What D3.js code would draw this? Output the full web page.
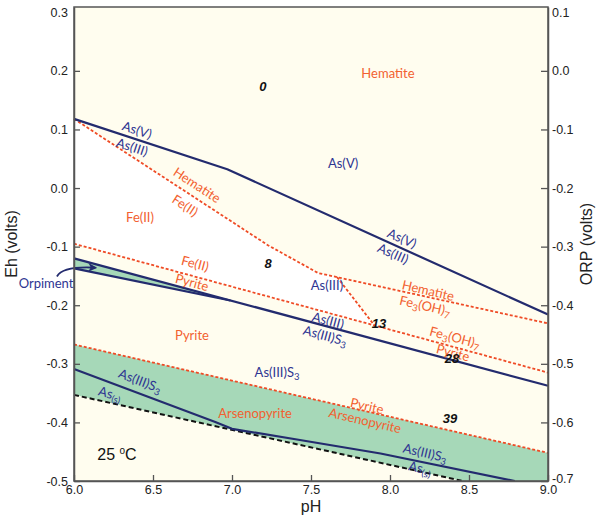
<!DOCTYPE html>
<html>
<head>
<meta charset="utf-8">
<script src="https://cdn.jsdelivr.net/npm/d3@7"></script>
<style>
  body { margin: 0; background: #ffffff; }
  svg { display: block; }
</style>
</head>
<body>
<svg id="chart" width="601" height="525"></svg>
<script>
// ---------- data (pH, Eh in volts) ----------
const xDomain = [6.0, 9.0];
const ehDomain = [-0.5, 0.309];
const orpDomain = [-0.7, 0.109];
const xTicks = [6.0, 6.5, 7.0, 7.5, 8.0, 8.5, 9.0];
const ehTicks = [-0.5, -0.4, -0.3, -0.2, -0.1, 0.0, 0.1, 0.2, 0.3];
const orpTicks = [-0.7, -0.6, -0.5, -0.4, -0.3, -0.2, -0.1, 0.0, 0.1];

// solid blue boundaries (arsenic)
const asV_asIII = [[6.0, 0.118], [6.97, 0.032], [9.0, -0.216]];
const asIII_asIIIS3 = [[6.0, -0.120], [9.0, -0.3375]];
const orpimentLower = [[6.0, -0.137], [6.99, -0.192]];
const asIIIS3_asS = [[6.0, -0.309], [6.89, -0.399], [7.0, -0.411], [7.43, -0.430], [7.94, -0.453], [8.79, -0.5]];

// dashed orange boundaries (iron)
const hematite_feII = [[6.0, 0.118], [7.23, -0.098], [7.545, -0.145], [9.0, -0.231]];
const branchFe = [[7.665, -0.152], [7.9, -0.234]];
const feII_pyrite = [[6.0, -0.095], [9.0, -0.315]];
const pyrite_arsenopyrite = [[6.0, -0.267], [9.0, -0.452]];

// dashed black boundary
const asS_lower = [[6.0, -0.353], [8.46, -0.5]];

// region labels: [text, pH, Eh, rotation(deg), kind]
const labels = [
  ["Hematite", 7.987, 0.196, 0, "fe"],
  ["0", 7.196, 0.174, 0, "num"],
  ["As(V)", 6.399, 0.099, 18, "as"],
  ["As(III)", 6.367, 0.070, 18, "as"],
  ["As(V)", 7.703, 0.042, 0, "as"],
  ["Hematite", 6.778, 0.005, 33, "fe"],
  ["Fe(II)", 6.703, -0.030, 33, "fe"],
  ["Fe(II)", 6.418, -0.050, 0, "fe"],
  ["As(V)", 8.076, -0.086, 24, "as"],
  ["As(III)", 8.019, -0.112, 24, "as"],
  ["8", 7.228, -0.129, 0, "num"],
  ["Fe(II)", 6.766, -0.129, 15, "fe"],
  ["Pyrite", 6.747, -0.161, 15, "fe"],
  ["As(III)", 7.601, -0.166, 0, "as"],
  ["Orpiment", 5.823, -0.163, 0, "as"],
  ["Hematite", 8.241, -0.175, 13, "fe"],
  ["Fe_3(OH)_7", 8.222, -0.201, 13, "fe"],
  ["13", 7.930, -0.231, 0, "num"],
  ["As(III)", 7.608, -0.226, 15, "as"],
  ["As(III)S_3", 7.589, -0.252, 15, "as"],
  ["Fe_3(OH)_7", 8.411, -0.255, 15, "fe"],
  ["Pyrite", 8.399, -0.281, 15, "fe"],
  ["28", 8.392, -0.291, 0, "num"],
  ["Pyrite", 6.747, -0.252, 0, "fe"],
  ["As(III)S_3", 7.285, -0.314, 0, "as"],
  ["Pyrite", 7.854, -0.372, 13, "fe"],
  ["Arsenopyrite", 7.842, -0.397, 13, "fe"],
  ["39", 8.380, -0.394, 0, "num"],
  ["As(III)S_3", 6.418, -0.329, 21, "as"],
  ["As_(s)", 6.228, -0.351, 15, "as"],
  ["Arsenopyrite", 7.146, -0.385, 0, "fe"],
  ["As(III)S_3", 8.222, -0.452, 13, "as"],
  ["As_(s)", 8.19, -0.478, 13, "as"]
];
const tempLabel = ["25 ", "o", "C"];
const tempPos = [6.272, -0.454];
// orpiment pointer (pH, Eh): start, control, end
const orpArrow = [[5.892, -0.151], [5.93, -0.133], [6.135, -0.136]];

// ---------- layout ----------
const M = { left: 74, right: 548, top: 7, bottom: 481 };
const x = d3.scaleLinear().domain(xDomain).range([M.left, M.right]);
const y = d3.scaleLinear().domain(ehDomain).range([M.bottom, M.top]);
const yR = d3.scaleLinear().domain(orpDomain).range([M.bottom, M.top]);

const C = {
  cream: "#fffdef",
  white: "#ffffff",
  green: "#a6d8b8",
  navy: "#232b6e",
  navyText: "#2e3592",
  orangeLine: "#ef4b26",
  orangeText: "#f26130",
  axis: "#555555"
};

const svg = d3.select("#chart");
const line = d3.line().x(d => x(d[0])).y(d => y(d[1]));

// background
svg.append("rect").attr("x", M.left).attr("y", M.top)
  .attr("width", M.right - M.left).attr("height", M.bottom - M.top)
  .attr("fill", C.cream);

// white Fe(II) region
function segUpTo(arr, px) {
  return arr.filter(d => d[0] <= px);
}
const whitePoly = segUpTo(hematite_feII, branchFe[0][0])
  .concat([branchFe[0], branchFe[1]])
  .concat([feII_pyrite[0]]);
svg.append("path").attr("d", line(whitePoly) + "Z").attr("fill", C.white);

// orpiment green wedge
const orpPoly = [asIII_asIIIS3[0]].concat(orpimentLower.slice().reverse());
svg.append("path").attr("d", line(orpPoly) + "Z").attr("fill", C.green);

// arsenopyrite green band
const bandPoly = pyrite_arsenopyrite
  .concat([[xDomain[1], ehDomain[0]]])
  .concat(asS_lower.slice().reverse());
svg.append("path").attr("d", line(bandPoly) + "Z").attr("fill", C.green);

// lines
function drawLine(data, color, width, dash) {
  svg.append("path").attr("d", line(data)).attr("fill", "none")
    .attr("stroke", color).attr("stroke-width", width)
    .attr("stroke-dasharray", dash || null)
    .attr("stroke-linejoin", "round");
}
drawLine(hematite_feII, C.orangeLine, 1.8, "3,2");
drawLine(branchFe, C.orangeLine, 1.8, "3,2");
drawLine(feII_pyrite, C.orangeLine, 1.8, "3,2");
drawLine(pyrite_arsenopyrite, C.orangeLine, 1.8, "3,2");
drawLine(asS_lower, "#111111", 2, "5,3");
drawLine(asV_asIII, C.navy, 2.2);
drawLine(asIII_asIIIS3, C.navy, 2.2);
drawLine(orpimentLower, C.navy, 2.2);
drawLine(asIIIS3_asS, C.navy, 2.2);

// orpiment arrow
svg.append("defs").append("marker").attr("id", "arrow")
  .attr("viewBox", "0 0 10 10").attr("refX", 8).attr("refY", 5)
  .attr("markerWidth", 5).attr("markerHeight", 5).attr("orient", "auto")
  .append("path").attr("d", "M0,0 L10,5 L0,10 L3,5 Z").attr("fill", C.navy);
svg.append("path")
  .attr("d", `M${x(orpArrow[0][0])},${y(orpArrow[0][1])} Q${x(orpArrow[1][0])},${y(orpArrow[1][1])} ${x(orpArrow[2][0])},${y(orpArrow[2][1])}`)
  .attr("fill", "none").attr("stroke", C.navy).attr("stroke-width", 1.8)
  .attr("marker-end", "url(#arrow)");

// frame
svg.append("rect").attr("x", M.left).attr("y", M.top)
  .attr("width", M.right - M.left).attr("height", M.bottom - M.top)
  .attr("fill", "none").attr("stroke", C.axis).attr("stroke-width", 1.5);

// axes
const fmt = d => d.toFixed(1);
const axFont = "Liberation Sans, Arial, sans-serif";
const gL = svg.append("g").attr("transform", `translate(${M.left},0)`)
  .call(d3.axisLeft(y).tickValues(ehTicks).tickFormat(fmt).tickSizeInner(-6).tickSizeOuter(0).tickPadding(6));
const gR = svg.append("g").attr("transform", `translate(${M.right},0)`)
  .call(d3.axisRight(yR).tickValues(orpTicks).tickFormat(fmt).tickSizeInner(-7).tickSizeOuter(0).tickPadding(4));
const gB = svg.append("g").attr("transform", `translate(0,${M.bottom})`)
  .call(d3.axisBottom(x).tickValues(xTicks).tickFormat(fmt).tickSizeInner(-6).tickSizeOuter(0).tickPadding(4));
[gL, gR, gB].forEach(g => {
  g.select(".domain").attr("stroke", C.axis).attr("stroke-width", 1.5);
  g.selectAll(".tick line").attr("stroke", C.axis).attr("stroke-width", 1.3);
  g.selectAll(".tick text").attr("font-family", axFont).attr("font-size", 12.5).attr("fill", "#222");
});
gL.selectAll(".tick").filter(d => d === 0.3).select("line").remove();
gR.selectAll(".tick").filter(d => d === 0.1).select("line").remove();
gR.selectAll(".tick").filter(d => d === -0.7).select("text").attr("dy", "0.1em");

// axis titles
svg.append("text").attr("x", (M.left + M.right) / 2).attr("y", 512)
  .attr("text-anchor", "middle").attr("font-family", axFont).attr("font-size", 16)
  .attr("fill", "#222").text("pH");
svg.append("text").attr("transform", `translate(17,${(M.top + M.bottom) / 2}) rotate(-90)`)
  .attr("text-anchor", "middle").attr("font-family", axFont).attr("font-size", 16)
  .attr("fill", "#222").text("Eh (volts)");
svg.append("text").attr("transform", `translate(592,${(M.top + M.bottom) / 2}) rotate(-90)`)
  .attr("text-anchor", "middle").attr("font-family", axFont).attr("font-size", 16)
  .attr("fill", "#222").text("ORP (volts)");

// region labels
const lblFont = "Lato, 'Noto Sans', sans-serif";
labels.forEach(([txt, px, py, rot, kind]) => {
  const t = svg.append("text")
    .attr("transform", `translate(${x(px)},${y(py)}) rotate(${rot})`)
    .attr("text-anchor", "middle").attr("dy", "0.35em")
    .attr("font-family", kind === "num" ? axFont : lblFont)
    .attr("font-size", kind === "num" ? 13 : 13)
    .attr("font-weight", kind === "num" ? "bold" : "normal")
    .attr("font-style", kind === "num" ? "italic" : "normal")
    .attr("fill", kind === "num" ? "#111" : kind === "fe" ? C.orangeText : C.navyText);
  const parts = txt.split("_");
  parts.forEach((p, i) => {
    if (i === 0) { t.append("tspan").text(p); return; }
    let sub, rest;
    if (p.startsWith("(")) { const k = p.indexOf(")") + 1; sub = p.slice(0, k); rest = p.slice(k); }
    else { sub = p[0]; rest = p.slice(1); }
    t.append("tspan").attr("font-size", 9.5).attr("dy", 3).text(sub);
    if (rest) t.append("tspan").attr("dy", -3).text(rest);
  });
});

// temperature label
const tt = svg.append("text").attr("x", x(tempPos[0])).attr("y", y(tempPos[1]))
  .attr("dy", "0.35em").attr("text-anchor", "middle")
  .attr("font-family", axFont).attr("font-size", 16).attr("fill", "#111");
tt.append("tspan").text(tempLabel[0]);
tt.append("tspan").attr("font-size", 10).attr("dy", -6).text(tempLabel[1]);
tt.append("tspan").attr("dy", 6).text(tempLabel[2]);
</script>
</body>
</html>
